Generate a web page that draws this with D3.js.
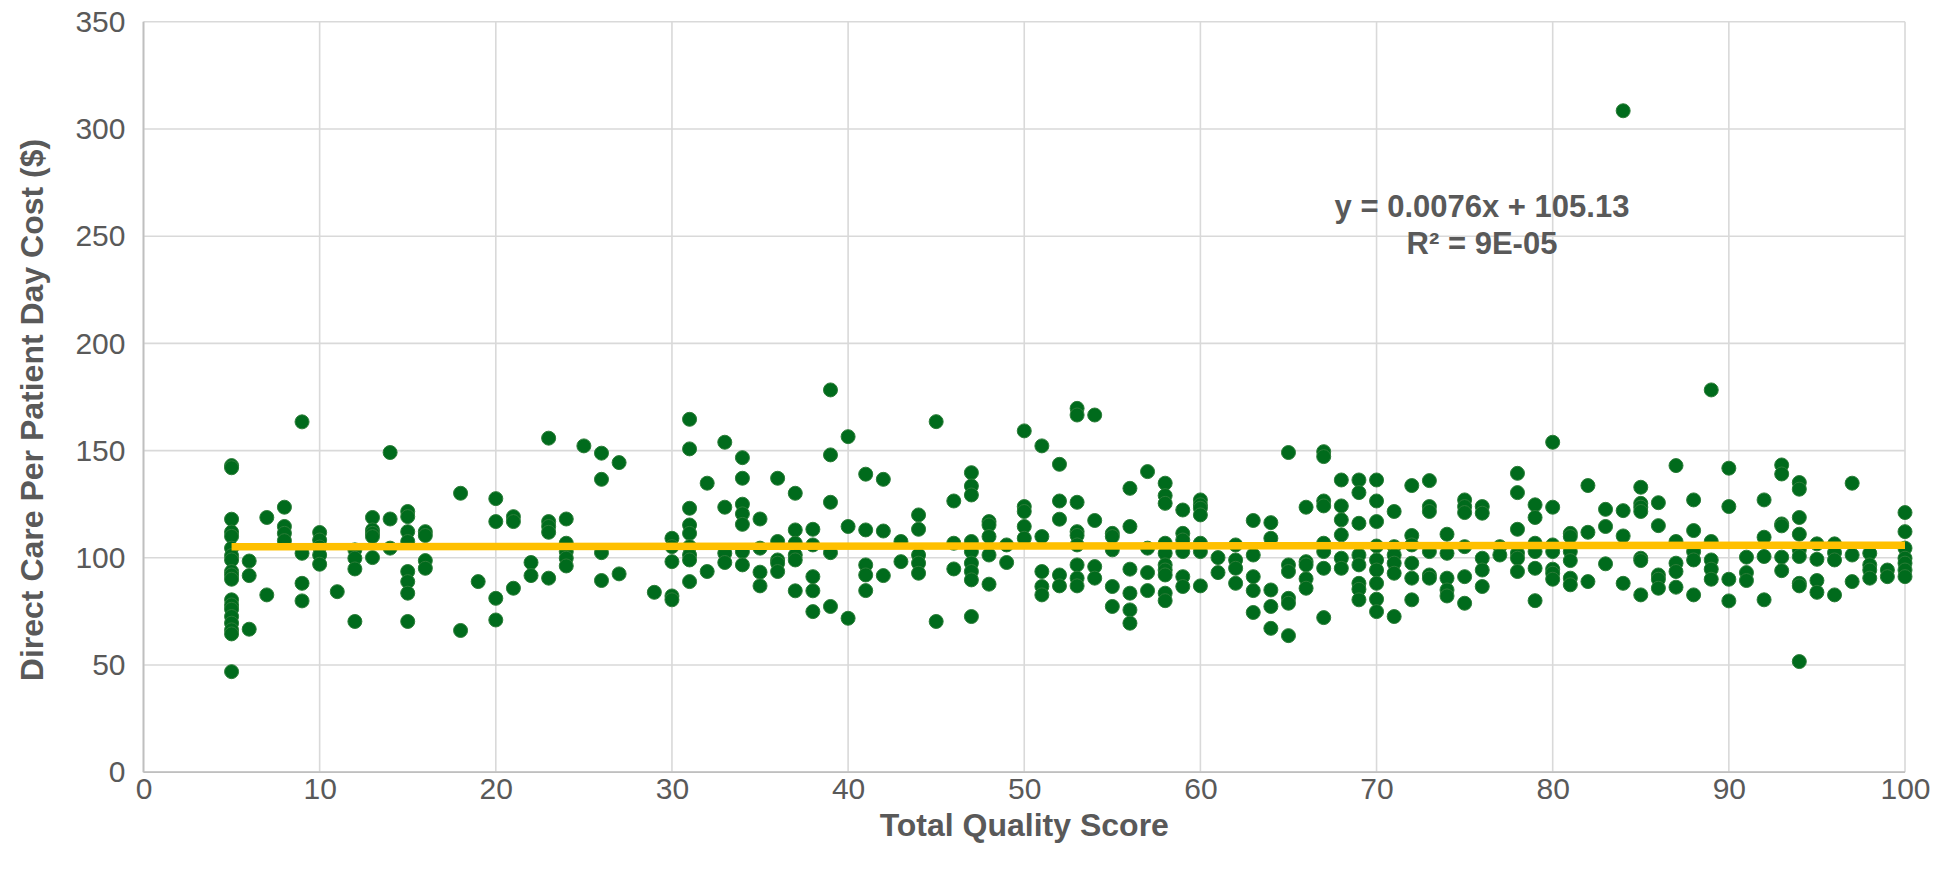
<!DOCTYPE html>
<html>
<head>
<meta charset="utf-8">
<script src="https://cdn.jsdelivr.net/npm/d3@7"></script>
<style>
  html, body { margin: 0; padding: 0; background: #ffffff; }
  svg { display: block; font-family: "Liberation Sans", Arial, sans-serif; }
</style>
</head>
<body>
<svg id="chart" width="1944" height="873"></svg>
<script>
// total quality score (x) and the direct care cost values seen at that score
var scores = [5, 6, 7, 8, 9, 10, 11, 12, 13, 14, 15, 16, 18, 19, 20, 21, 22, 23, 24, 25, 26, 27, 29, 30,
  31, 32, 33, 34, 35, 36, 37, 38, 39, 40, 41, 42, 43, 44, 45, 46, 47, 48, 49, 50,
  51, 52, 53, 54, 55, 56, 57, 58, 59, 60, 61, 62, 63, 64, 65, 66, 67, 68, 69, 70,
  71, 72, 73, 74, 75, 76, 77, 78, 79, 80, 81, 82, 83, 84, 85, 86, 87, 88, 89, 90,
  91, 92, 93, 94, 95, 96, 97, 98, 99, 100];

var costs = [
  [143, 142, 118, 112, 110, 104.5, 101, 99, 93.6, 92, 90, 80.4, 78, 76, 72.6, 69.5, 66.4, 64.5, 46.9],
  [98.5, 91.7, 66.7],
  [118.8, 82.7],
  [123.6, 114.6, 111.4, 108],
  [163.4, 102.1, 88.1, 79.9],
  [111.8, 108.3, 105, 101.3, 97],
  [84.2],
  [103.7, 99.8, 94.8, 70.3],
  [118.8, 113, 111.4, 109.9, 100.1],
  [149.1, 118.1, 104.5],
  [121.6, 119.2, 112.2, 107.6, 93.6, 88.9, 83.5, 70.3],
  [112.2, 110.4, 98.7, 95.1],
  [130.1, 66.1],
  [88.9],
  [127.6, 116.9, 81.1, 71],
  [119.2, 116.9, 85.8],
  [97.8, 91.7],
  [155.8, 116.9, 114.6, 111.9, 90.5],
  [118.1, 106.8, 102.9, 99.8, 96.2],
  [152.2],
  [148.8, 136.6, 102.4, 89.4],
  [144.4, 92.5],
  [83.9],
  [109.1, 105.2, 98.2, 82.2, 80.4],
  [164.6, 150.8, 123.1, 115.3, 111.4, 105.2, 101.3, 99, 88.9],
  [134.8, 93.6],
  [153.9, 123.6, 102.1, 97.8],
  [146.7, 137.1, 125, 120.5, 115.6, 102.9, 96.7],
  [118.1, 104.5, 93.3, 86.9],
  [137.1, 107.6, 99, 97.5, 93.6],
  [130.1, 113, 106.8, 101.3, 99, 84.6],
  [113.3, 106, 91.2, 84.6, 74.9],
  [178.3, 148, 125.9, 102.4, 77.3],
  [156.5, 114.6, 71.8],
  [139, 113, 96.7, 92, 84.7],
  [136.6, 112.5, 91.7],
  [107.6, 98.2],
  [120, 113.3, 101.3, 97.5, 92.8],
  [163.5, 70.3],
  [126.5, 106.8, 94.8],
  [139.7, 133.5, 129.3, 107.6, 102.9, 97.5, 93.6, 89.7, 72.6],
  [116.9, 115.3, 109.9, 101.3, 87.7],
  [106, 97.8],
  [159.2, 123.9, 121.6, 114.6, 109.1],
  [152.2, 109.9, 93.6, 86.6, 82.7],
  [143.6, 126.5, 118, 92, 86.9],
  [169.7, 166.6, 125.9, 112.2, 110.4, 106, 96.7, 90.5, 86.9],
  [166.6, 117.4, 95.9, 90.5],
  [111.4, 109.9, 103.7, 86.6, 77.3],
  [132.4, 114.6, 94.7, 83.5, 75.7, 69.5],
  [140.2, 104.5, 93.1, 84.7],
  [134.8, 129, 125.4, 106.8, 102.1, 96.7, 94.3, 92, 83.5, 80],
  [122.3, 111.4, 108.3, 102.9, 91.2, 86.6],
  [127, 124.7, 123.1, 120, 106.8, 102.9, 86.9],
  [100.1, 93.1],
  [106, 99, 95.1, 88.1],
  [117.4, 101.3, 91.2, 84.7, 74.5],
  [116.4, 109.1, 85, 77.3, 67.1],
  [149.1, 96.7, 93.6, 81.1, 78.8, 63.7],
  [123.6, 98.2, 96.7, 90.2, 85.8],
  [149.5, 147.2, 126.5, 124.2, 106.8, 102.9, 95.1, 72.1],
  [136.3, 124.2, 117.7, 110.7, 99.8, 95.1],
  [136.3, 130.4, 116.1, 101.3, 96.7, 88.1, 85.3, 80.4],
  [136.3, 126.5, 116.9, 105.5, 99, 94.3, 88.1, 80.7, 74.9],
  [121.6, 105.2, 101.3, 97.5, 92.8, 72.6],
  [133.7, 110.4, 106, 97.5, 90.5, 80.4],
  [136, 123.9, 121.6, 102.9, 92, 90.5],
  [111, 102.1, 90.5, 85, 82.2],
  [127, 123.9, 121.1, 105.2, 91.2, 78.8],
  [123.9, 120.8, 99.8, 94.3, 86.6],
  [105.2, 101.3],
  [139.4, 130.4, 113.3, 102.1, 99.8, 93.6],
  [124.7, 118.8, 106.8, 102.9, 95.1, 80],
  [153.9, 123.6, 106, 102.9, 94.7, 92.8, 90],
  [111.4, 109.9, 102.9, 98.7, 90.5, 87.4],
  [133.7, 111.9, 88.9],
  [122.6, 114.6, 97.2],
  [308.5, 122, 110.2, 88.1],
  [132.9, 125.4, 123.6, 121.6, 99.8, 98.7, 82.7],
  [125.7, 115, 92, 90, 85.8],
  [143, 107.6, 97.5, 93.6, 86.3],
  [127, 112.7, 102.9, 99, 82.7],
  [178.3, 107.6, 99, 94.7, 90],
  [141.8, 123.9, 90, 79.9],
  [100.3, 93.1, 89.4],
  [127, 109.6, 100.6, 80.4],
  [143.3, 139.1, 115.8, 114.9, 100.3, 94],
  [135.1, 132, 118.8, 111, 103.7, 100.6, 88.1, 86.9, 51.6],
  [106.5, 99.3, 89.4, 83.9],
  [106.5, 102.4, 99, 82.7],
  [134.8, 101.3, 88.9],
  [102.1, 96.7, 94.3, 90.5],
  [94.3, 91.2],
  [121.1, 112.2, 104.5, 99.8, 97.5, 94.3, 91.2]
];

var xTicks = [0, 10, 20, 30, 40, 50, 60, 70, 80, 90, 100];
var yTicks = [0, 50, 100, 150, 200, 250, 300, 350];

// linear trendline as given on the chart
var trendSlope = 0.0076;
var trendIntercept = 105.13;
var trendRange = [5, 100];
var trendLabel = ["y = 0.0076x + 105.13", "R\u00b2 = 9E-05"];

var xTitle = "Total Quality Score";
var yTitle = "Direct Care Per Patient Day Cost ($)";

var points = [];
scores.forEach(function (s, i) {
    costs[i].forEach(function (c) { points.push({x: s, y: c}); });
});

var margin = {left: 143.5, right: 1944 - 1905, top: 21.8, bottom: 873 - 772.2};
var width = 1944 - margin.left - margin.right;
var height = 873 - margin.top - margin.bottom;

var svg = d3.select("#chart");
var g = svg.append("g")
    .attr("transform", "translate(" + margin.left + "," + margin.top + ")");

var x = d3.scaleLinear().domain([0, 100]).range([0, width]);
var y = d3.scaleLinear().domain([0, 350]).range([height, 0]);

// gridlines
g.append("g")
    .selectAll("line")
    .data(yTicks)
    .enter()
    .append("line")
    .attr("x1", 0)
    .attr("x2", width)
    .attr("y1", function (d) { return y(d); })
    .attr("y2", function (d) { return y(d); })
    .attr("stroke", "#d9d9d9")
    .attr("stroke-width", 1.6);

g.append("g")
    .selectAll("line")
    .data(xTicks)
    .enter()
    .append("line")
    .attr("x1", function (d) { return x(d); })
    .attr("x2", function (d) { return x(d); })
    .attr("y1", 0)
    .attr("y2", height)
    .attr("stroke", "#d9d9d9")
    .attr("stroke-width", 1.6);

// axis lines
g.append("line")
    .attr("x1", 0).attr("x2", 0)
    .attr("y1", 0).attr("y2", height)
    .attr("stroke", "#bfbfbf").attr("stroke-width", 1.8);
g.append("line")
    .attr("x1", 0).attr("x2", width)
    .attr("y1", height).attr("y2", height)
    .attr("stroke", "#bfbfbf").attr("stroke-width", 1.8);

// tick labels
var xAxis = d3.axisBottom(x).tickValues(xTicks).tickSize(0).tickPadding(5);
var yAxis = d3.axisLeft(y).tickValues(yTicks).tickSize(0).tickPadding(18);

g.append("g")
    .attr("transform", "translate(0," + height + ")")
    .call(xAxis)
    .call(function (a) { a.select(".domain").remove(); })
    .selectAll("text")
    .attr("font-family", "Liberation Sans, Arial, sans-serif")
    .attr("font-size", 30)
    .attr("fill", "#595959");

g.append("g")
    .call(yAxis)
    .call(function (a) { a.select(".domain").remove(); })
    .selectAll("text")
    .attr("font-family", "Liberation Sans, Arial, sans-serif")
    .attr("font-size", 30)
    .attr("fill", "#595959");

// points
g.append("g")
    .selectAll("circle")
    .data(points)
    .enter()
    .append("circle")
    .attr("cx", function (d) { return x(d.x); })
    .attr("cy", function (d) { return y(d.y); })
    .attr("r", 7)
    .attr("fill", "#006b1c")
    .attr("stroke", "#2b7d38")
    .attr("stroke-width", 1);

// trendline
var trend = trendRange.map(function (v) { return {x: v, y: trendSlope * v + trendIntercept}; });
g.append("path")
    .datum(trend)
    .attr("d", d3.line().x(function (d) { return x(d.x); }).y(function (d) { return y(d.y); }))
    .attr("stroke", "#ffc000")
    .attr("stroke-width", 7.5)
    .attr("fill", "none");

// equation label
svg.append("g")
    .selectAll("text")
    .data(trendLabel)
    .enter()
    .append("text")
    .attr("x", 1482)
    .attr("y", function (d, i) { return 217 + i * 37; })
    .attr("text-anchor", "middle")
    .attr("font-size", 31)
    .attr("font-weight", "bold")
    .attr("fill", "#595959")
    .text(function (d) { return d; });

// axis titles
svg.append("text")
    .attr("x", margin.left + width / 2)
    .attr("y", 836)
    .attr("text-anchor", "middle")
    .attr("font-size", 32)
    .attr("font-weight", "bold")
    .attr("fill", "#595959")
    .text(xTitle);

svg.append("text")
    .attr("transform", "translate(43," + 410 + ") rotate(-90)")
    .attr("text-anchor", "middle")
    .attr("font-size", 32)
    .attr("font-weight", "bold")
    .attr("fill", "#595959")
    .text(yTitle);
</script>
</body>
</html>
